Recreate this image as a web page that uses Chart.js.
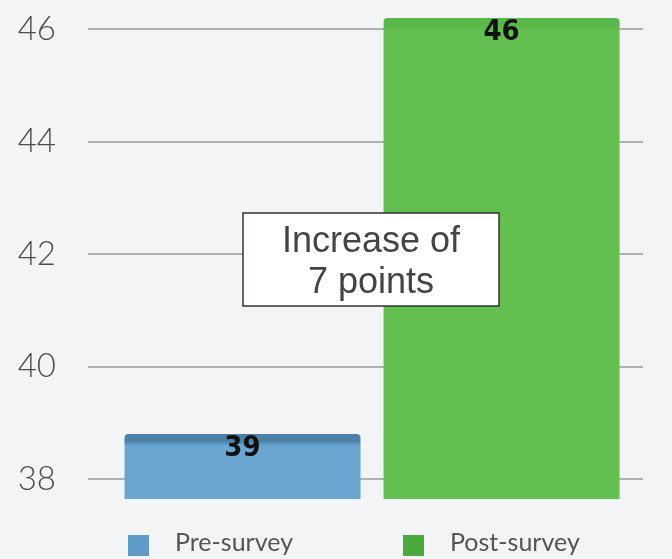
<!DOCTYPE html>
<html>
<head>
<meta charset="utf-8">
<script src="https://cdn.jsdelivr.net/npm/chart.js@4.4.1/dist/chart.umd.min.js"></script>
<style>
  html, body { margin: 0; padding: 0; background: #f3f4f6; }
  #wrap { position: relative; width: 672px; height: 559px; }
  canvas { display: block; }
</style>
</head>
<body>
<div id="wrap"><canvas id="chart" width="672" height="559"></canvas></div>
<script>
// Survey score before and after
const categories = ['Pre-survey', 'Post-survey'];
const scores = [38.8, 46.2];
const tickValues = [38, 40, 42, 44, 46];
const noteLines = ['Increase of', '7 points'];

const barTop = ['#4b81a6', '#5ab84a'];
const barBody = ['#6aa6d0', '#62bf50'];
const legendColors = ['#5e9bc8', '#4aa83c'];
const legendX = [128, 403];

function barFill(ctx) {
  const chart = ctx.chart;
  const i = ctx.dataIndex;
  const yScale = chart.scales && chart.scales.y;
  if (!chart.chartArea || !yScale) return barBody[i];
  const top = yScale.getPixelForValue(scores[i]);
  if (!isFinite(top)) return barBody[i];
  const g = chart.ctx.createLinearGradient(0, top, 0, top + 12);
  g.addColorStop(0, barTop[i]);
  g.addColorStop(0.6, barTop[i]);
  g.addColorStop(1, barBody[i]);
  return g;
}

const decor = {
  id: 'decor',
  beforeDatasetsDraw(chart) {
    // soft cast shadow at the lower right of each bar
    const c = chart.ctx;
    const meta = chart.getDatasetMeta(0);
    c.save();
    meta.data.forEach((bar) => {
      const right = bar.x + bar.width / 2;
      const h = Math.min(60, bar.base - bar.y);
      const top = bar.base - h;
      const g = c.createLinearGradient(right, 0, right + 55, 0);
      g.addColorStop(0, 'rgba(0,0,0,0.32)');
      g.addColorStop(0.5, 'rgba(0,0,0,0.14)');
      g.addColorStop(1, 'rgba(0,0,0,0)');
      c.fillStyle = g;
      c.beginPath();
      c.moveTo(right, top);
      c.lineTo(right + 55, top + h * 0.45);
      c.lineTo(right + 55, bar.base - 4);
      c.lineTo(right, bar.base - 2);
      c.closePath();
      c.fill();
    });
    c.restore();
  },
  afterDatasetsDraw(chart) {
    const c = chart.ctx;
    const meta = chart.getDatasetMeta(0);
    // value labels inside the bar tops
    c.save();
    c.font = 'bold 29px "DejaVu Sans", sans-serif';
    if ('fontStretch' in c) c.fontStretch = 'condensed';
    c.fillStyle = '#111';
    c.textAlign = 'center';
    c.textBaseline = 'middle';
    meta.data.forEach((bar, i) => {
      c.fillText(String(Math.round(scores[i])), bar.x, bar.y + 14);
    });
    c.restore();
  },
  afterDraw(chart) {
    const c = chart.ctx;
    // legend under the bars
    c.save();
    c.font = '25px Lato, "Open Sans", sans-serif';
    c.textBaseline = 'alphabetic';
    c.textAlign = 'left';
    categories.forEach((name, i) => {
      c.fillStyle = legendColors[i];
      c.fillRect(legendX[i], 535, 21, 21);
      c.fillStyle = '#555';
      c.fillText(name, legendX[i] + 47, 551);
    });
    c.restore();
    // annotation box
    c.save();
    const bx = 243, by = 213, bw = 256, bh = 93;
    c.fillStyle = '#ffffff';
    c.fillRect(bx, by, bw, bh);
    c.strokeStyle = '#333';
    c.lineWidth = 1.5;
    c.strokeRect(bx, by, bw, bh);
    c.fillStyle = '#444';
    c.font = '36px "Liberation Sans", Arial, sans-serif';
    c.textAlign = 'center';
    c.textBaseline = 'alphabetic';
    c.fillText(noteLines[0], bx + bw / 2, 252);
    c.fillText(noteLines[1], bx + bw / 2, 293);
    c.restore();
  }
};

new Chart(document.getElementById('chart'), {
  type: 'bar',
  data: {
    datasets: [{
      data: scores.map((v, i) => ({ x: i, y: v })),
      backgroundColor: barFill,
      borderRadius: 4,
      borderSkipped: false,
      barPercentage: 0.911,
      categoryPercentage: 1
    }]
  },
  options: {
    responsive: false,
    animation: false,
    layout: { padding: { top: 10, right: 29, bottom: 60, left: 0 } },
    plugins: { legend: { display: false }, tooltip: { enabled: false } },
    scales: {
      x: {
        type: 'linear', display: false, offset: false, min: -0.5965, max: 1.546,
        afterBuildTicks(scale) { scale.ticks = categories.map((_, i) => ({ value: i })); }
      },
      y: {
        min: 37.644,
        max: 46.344,
        afterBuildTicks(scale) { scale.ticks = tickValues.map(v => ({ value: v })); },
        afterFit(scale) {
          scale.width = 88;
          scale.paddingTop = 0;
          scale.paddingBottom = 0;
        },
        border: { display: false },
        grid: { color: '#aeb0b3', lineWidth: 2, drawTicks: false },
        ticks: {
          padding: 32,
          color: '#4d4d4d',
          font: { family: 'Lato, "Open Sans", sans-serif', size: 33, weight: '300' }
        }
      }
    }
  },
  plugins: [decor]
});
</script>
</body>
</html>
